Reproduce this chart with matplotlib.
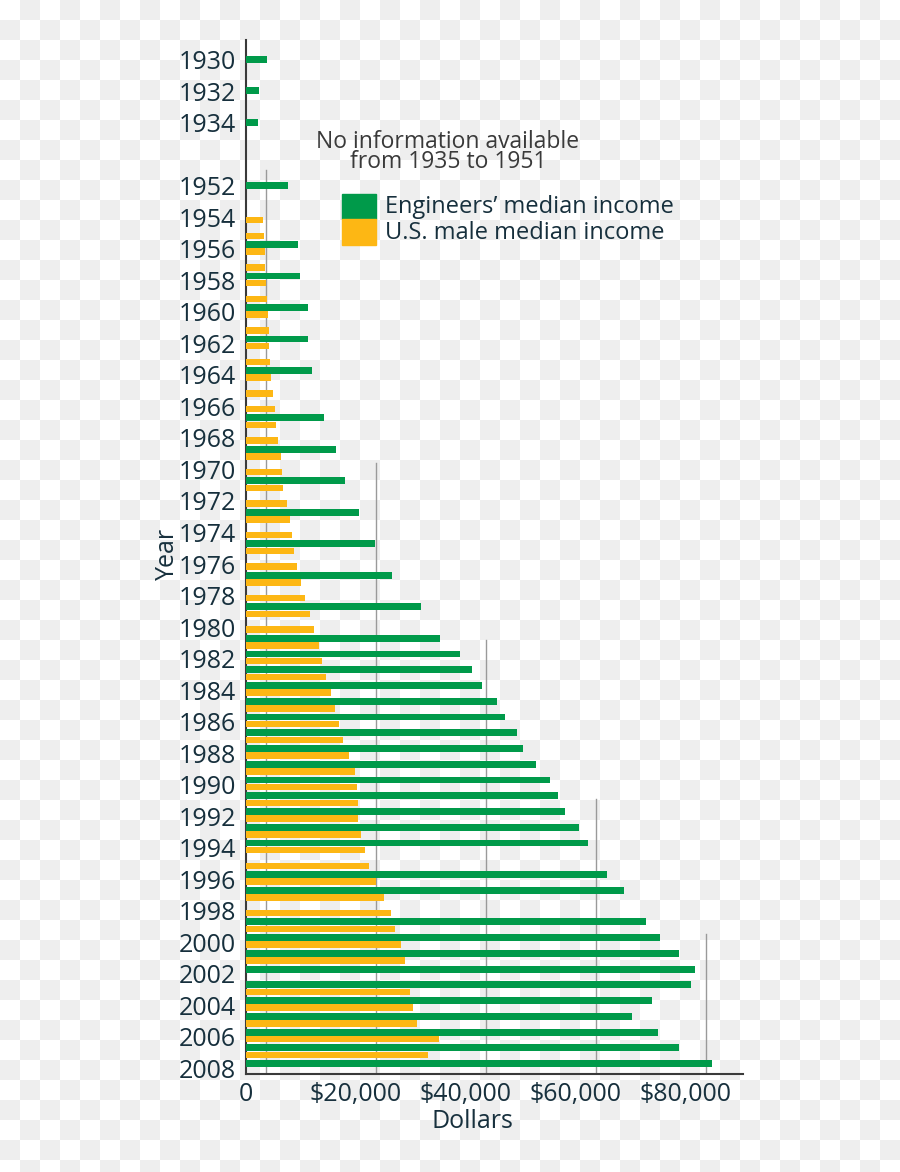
import numpy as np
import matplotlib
matplotlib.use('Agg')
import matplotlib.pyplot as plt
from matplotlib.patches import Rectangle

# Engineers' median income (green), in dollars
eng_years = [1930, 1932, 1934, 1952, 1956, 1958, 1960, 1962, 1964, 1967, 1969,
             1971, 1973, 1975, 1977, 1979, 1981, 1982, 1983, 1984, 1985, 1986,
             1987, 1988, 1989, 1990, 1991, 1992, 1993, 1994, 1996, 1997, 1999,
             2000, 2001, 2002, 2003, 2004, 2005, 2006, 2007, 2008]
eng_income = [3800, 2470, 2180, 7750, 9450, 9930, 11380, 11380, 12000, 14180, 16360,
              18110, 20600, 23560, 26650, 31820, 35330, 38960, 41150, 42900, 45600, 47100,
              49300, 50500, 52800, 55400, 56800, 58100, 60650, 62300, 65600, 68800, 72700,
              75400, 78800, 81600, 81000, 73900, 70300, 74900, 78800, 84800]

# U.S. male median income (orange), in dollars
male_years = [1954, 1955, 1956, 1957, 1958, 1959, 1960, 1961, 1962, 1963, 1964, 1965,
              1966, 1967, 1968, 1969, 1970, 1971, 1972, 1973, 1974, 1975, 1976, 1977,
              1978, 1979, 1980, 1981, 1982, 1983, 1984, 1985, 1986, 1987, 1988, 1989,
              1990, 1991, 1992, 1993, 1994, 1995, 1996, 1997, 1998, 1999, 2000, 2001,
              2003, 2004, 2005, 2006, 2007]
male_income = [3150, 3330, 3560, 3560, 3640, 3930, 4050, 4180, 4290, 4420, 4550, 4960,
               5270, 5510, 5870, 6360, 6600, 6840, 7450, 8000, 8420, 8780, 9330, 10050,
               10840, 11690, 12420, 13330, 13870, 14550, 15450, 16240, 17020, 17690, 18780, 19870,
               20240, 20420, 20420, 20960, 21640, 22420, 23690, 25150, 26420, 27150, 28240, 28960,
               29820, 30420, 31150, 35150, 33090]

label_years = [1930, 1932, 1934] + list(range(1952, 2009, 2))
x_ticks = [0, 20000, 40000, 60000, 80000]
x_labels = ['0', '$20,000', '$40,000', '$60,000', '$80,000']

GREEN = '#009a4a'
ORANGE = '#fdb714'
TEXT = '#17303d'


def pos(year):
    # gap of four rows stands in for 1935-1951
    return year - 1952 if year >= 1952 else year - 1934 - 4


fig = plt.figure(figsize=(9, 11.72), dpi=100)

# checkerboard background
h, w = 1172, 900
rows, cols = np.indices((h, w))
checker = np.where(((rows // 20) + (cols // 20)) % 2 == 1, 0.937, 1.0)
img = np.dstack([checker, checker, checker])
fig.figimage(img, xo=0, yo=0, origin='upper', zorder=-10)

ax = fig.add_axes([0.273, 0.0836, 0.5526, 0.8823])
ax.patch.set_alpha(0)

eng_pos = [pos(y) - (0.28 if y >= 1954 else 0.05) for y in eng_years]
male_pos = [pos(y) + 0.17 for y in male_years]
ax.barh(eng_pos, eng_income, height=0.43, color=GREEN, zorder=3)
ax.barh(male_pos, male_income, height=0.41, color=ORANGE, zorder=3)

# partial gridlines (offset from the tick labels, as in the original)
grid_x = [3636 + 20000 * k for k in range(5)]
grid_top = [-1.0, 17.6, 28.8, 38.9, 47.5]
for gx, gt in zip(grid_x, grid_top):
    ax.plot([gx, gx], [gt, 56.38], color='#9a9a9a', lw=1.0, zorder=1)

ax.set_xlim(0, 90418)
ax.set_ylim(56.38, -9.27)

for side in ['top', 'right']:
    ax.spines[side].set_visible(False)
for side in ['left', 'bottom']:
    ax.spines[side].set_color('#3a3a3a')
    ax.spines[side].set_linewidth(1.5)

ax.set_yticks([pos(y) for y in label_years])
ax.set_yticklabels([str(y) for y in label_years])
ax.set_xticks(x_ticks)
ax.set_xticklabels(x_labels)
ax.tick_params(axis='both', length=0, labelsize=18, labelcolor=TEXT)
ax.tick_params(axis='y', pad=7)
ax.tick_params(axis='x', pad=6)
for lab in ax.get_xticklabels() + ax.get_yticklabels():
    lab.set_family('Open Sans')

fig.text(472 / 900, 1 - 1122 / 1172, 'Dollars', ha='center', va='center',
         fontsize=18, color=TEXT, family='Open Sans')
fig.text(167 / 900, 1 - 554 / 1172, 'Year', ha='center', va='center', rotation=90,
         fontsize=18, color=TEXT, family='Open Sans')

# note about missing years
fig.text(448 / 900, 1 - 152 / 1172, 'No information available\nfrom 1935 to 1951',
         ha='center', va='center', multialignment='center', linespacing=0.78,
         fontsize=16.5, color='#3a3a3a', family='Open Sans')

# legend
fig.patches.append(Rectangle((342 / 900, 1 - 219 / 1172), 34 / 900, 25 / 1172,
                             transform=fig.transFigure, color=GREEN, zorder=2))
fig.patches.append(Rectangle((342 / 900, 1 - 245 / 1172), 34 / 900, 26 / 1172,
                             transform=fig.transFigure, color=ORANGE, zorder=2))
fig.text(385 / 900, 1 - 207 / 1172, 'Engineers\u2019 median income', ha='left', va='center',
         fontsize=17, color=TEXT, family='Open Sans')
fig.text(385 / 900, 1 - 233 / 1172, 'U.S. male median income', ha='left', va='center',
         fontsize=17, color=TEXT, family='Open Sans')

fig.savefig('out.png', dpi=100)
